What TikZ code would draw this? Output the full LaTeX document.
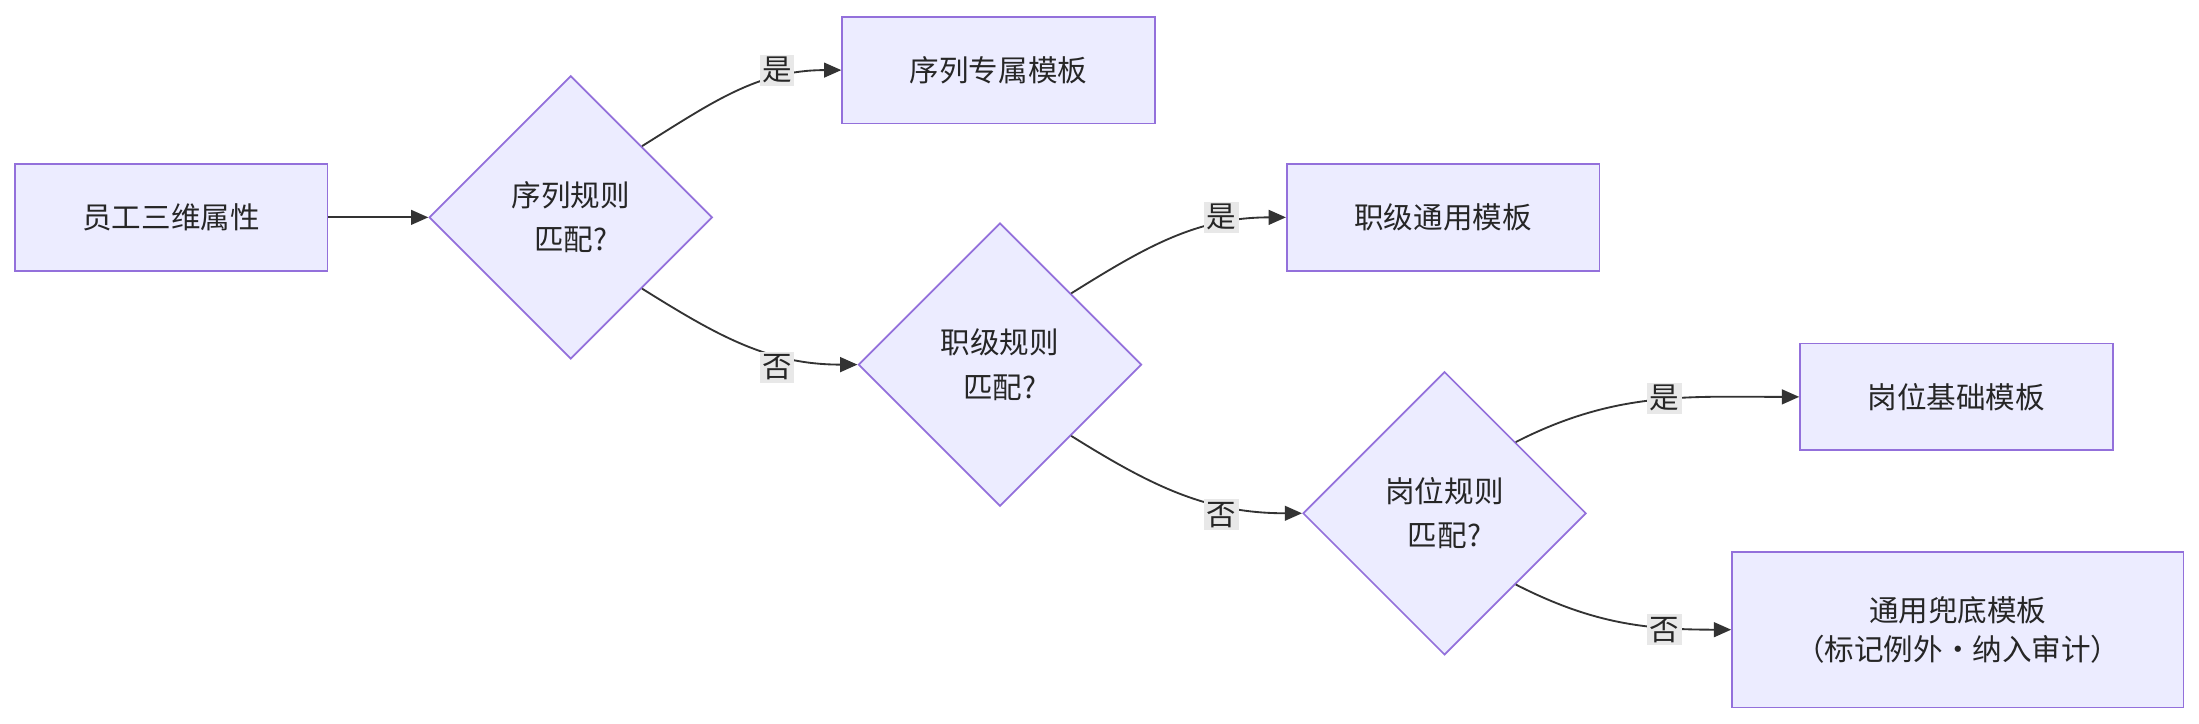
\documentclass[tikz,border=0pt]{standalone}
\usepackage{fontspec}
\setmainfont{Noto Sans CJK SC}
\usetikzlibrary{shapes.geometric,arrows.meta}
\definecolor{nodefill}{HTML}{ECECFF}
\definecolor{nodeline}{HTML}{9370DB}
\definecolor{edgeline}{HTML}{333333}
\definecolor{labelfill}{HTML}{E8E8E8}
\tikzset{
    box/.style={draw=nodeline, fill=nodefill, line width=0.7pt, minimum width=4.46cm, minimum height=1.52cm, align=center, font=\fontsize{12}{16}\selectfont, text=black!85},
    decision/.style={diamond, draw=nodeline, fill=nodefill, line width=0.7pt, minimum width=4.04cm, minimum height=4.04cm, inner sep=0pt, align=center, font=\fontsize{12}{18}\selectfont, text=black!85},
    flow/.style={draw=edgeline, line width=0.75pt, -{Triangle[length=7pt,width=6pt]}},
    tag/.style={fill=labelfill, inner sep=1pt, font=\fontsize{12}{14}\selectfont, text=black!85}
}
\begin{document}
\begin{tikzpicture}[x=0.02cm, y=-0.02cm]
    \useasboundingbox (0,0) rectangle (1568,516);

    % nodes
    \node[box] (attr) at (122,155) {员工三维属性};
    \node[decision] (seq) at (407,155) {序列规则\\匹配?};
    \node[box] (seqtpl) at (712,50) {序列专属模板};
    \node[decision] (grade) at (713,260) {职级规则\\匹配?};
    \node[box] (gradetpl) at (1029,155) {职级通用模板};
    \node[decision] (post) at (1030,366) {岗位规则\\匹配?};
    \node[box] (posttpl) at (1395,283) {岗位基础模板};
    \node[box, minimum width=6.44cm, minimum height=2.22cm] (fallback) at (1396,449) {通用兜底模板\\（标记例外·纳入审计）};

    % connectors
    \draw[flow] (attr) -- (seq);
    \draw[flow] (seq.north east) to[out=32,in=180] (seqtpl.west);
    \draw[flow] (seq.south east) to[out=-32,in=180] (grade.west);
    \draw[flow] (grade.north east) to[out=32,in=180] (gradetpl.west);
    \draw[flow] (grade.south east) to[out=-32,in=180] (post.west);
    \draw[flow] (post.north east) to[out=27,in=180] (posttpl.west);
    \draw[flow] (post.south east) to[out=-27,in=180] (fallback.west);

    % labels
    \node[tag] (y1) at (554,50) {是};
    \node[tag] (n1) at (554,262) {否};
    \node[tag] (y2) at (871,155) {是};
    \node[tag] (n2) at (871,367) {否};
    \node[tag] (y3) at (1187,284) {是};
    \node[tag] (n3) at (1187,449) {否};
\end{tikzpicture}
\end{document}
